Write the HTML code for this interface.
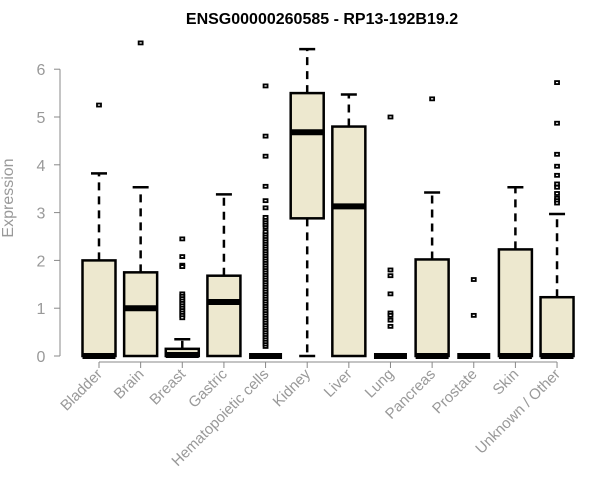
<!DOCTYPE html>
<html><head><meta charset="utf-8"><style>
html,body{margin:0;padding:0;background:#fff;}
svg{display:block;font-family:"Liberation Sans",Arial,sans-serif;}
</style></head><body>
<svg id="chart" width="600" height="500">
<text x="322" y="24" text-anchor="middle" font-weight="bold" font-size="16">ENSG00000260585 - RP13-192B19.2</text>
<text transform="translate(13,198) rotate(-90)" text-anchor="middle" font-size="16" fill="#999">Expression</text>
<g id="yaxis"></g>
<g id="xaxis"></g>
<g id="plot"></g>
</svg>
<script>
const categories=["Bladder","Brain","Breast","Gastric","Hematopoietic cells","Kidney","Liver","Lung","Pancreas","Prostate","Skin","Unknown / Other"];
const q1=[0,0,0,0,0,2.88,0,0,0,0,0,0];
const medians=[0,1.0,0.02,1.13,0,4.68,3.13,0,0,0,0,0];
const q3=[2.0,1.75,0.15,1.68,0,5.5,4.8,0,2.02,0,2.23,1.23];
const whiskLow=[0,0,0,0,0,0,0,0,0,0,0,0];
const whiskHigh=[3.82,3.53,0.35,3.38,0,6.42,5.47,0,3.42,0,3.53,2.97];
const outliers=[[5.25],[6.55],[2.45,2.08,1.9,1.87,1.3,1.25,1.2,1.15,1.1,1.05,1.0,0.95,0.9,0.85,0.8],[],
[0.2,0.25,0.3,0.35,0.4,0.45,0.5,0.55,0.6,0.65,0.7,0.75,0.8,0.85,0.9,0.95,1.0,1.05,1.1,1.15,1.2,1.25,1.3,1.35,1.4,1.45,1.5,1.55,1.6,1.65,1.7,1.75,1.8,1.85,1.9,1.95,2.0,2.05,2.1,2.15,2.2,2.25,2.3,2.35,2.4,2.45,2.5,2.55,2.6,2.7,2.75,2.8,2.85,2.9,3.1,3.25,3.55,4.18,4.6,5.65],
[],[],[5.0,1.8,1.68,1.3,0.9,0.85,0.75,0.62],[5.38],[1.6,0.85],[],
[5.72,4.87,4.22,3.97,3.78,3.6,3.53,3.4,3.3,3.25,3.2]];
const yTicks=[0,1,2,3,4,5,6];
const NS="http://www.w3.org/2000/svg";
const y=v=>356-v*47.8;
const x=i=>99+i*41.64;
function mk(parent,tag,attrs){const e=document.createElementNS(NS,tag);for(const k in attrs)e.setAttribute(k,attrs[k]);parent.appendChild(e);return e;}
const ya=document.getElementById('yaxis'),xa=document.getElementById('xaxis'),pl=document.getElementById('plot');
mk(ya,'line',{x1:60,x2:60,y1:y(0),y2:y(6),stroke:'#888'});
yTicks.forEach(t=>{
 const l=mk(ya,'line',{x1:54,x2:60,y1:y(t),y2:y(t),stroke:'#888'});
 
 
 const tx=mk(ya,'text',{x:41,y:y(t)+6,'text-anchor':'middle','font-size':16,fill:'#999'});
 tx.textContent=t;
 
 
});
mk(xa,'line',{x1:x(0),x2:x(11),y1:362,y2:362,stroke:'#888'});
categories.forEach((c,i)=>{
 const l=mk(xa,'line',{x1:x(i),x2:x(i),y1:362,y2:368,stroke:'#888'});
 
 
 const tx=mk(xa,'text',{transform:`translate(${x(i)+4},${375}) rotate(-45)`,'text-anchor':'end','font-size':15,fill:'#999'});
 tx.textContent=c;
 
 
});
categories.forEach((c,i)=>{
 const g=mk(pl,'g',{});
 
 
 const cx=x(i),hw=16.5;
 if(whiskHigh[i]>q3[i]){
  mk(g,'line',{x1:cx,x2:cx,y1:y(q3[i]),y2:y(whiskHigh[i]),stroke:'#000','stroke-width':2.5,'stroke-dasharray':'8,6'});
  mk(g,'line',{x1:cx-8,x2:cx+8,y1:y(whiskHigh[i]),y2:y(whiskHigh[i]),stroke:'#000','stroke-width':2.5});
 }
 if(whiskLow[i]<q1[i]){
  mk(g,'line',{x1:cx,x2:cx,y1:y(q1[i]),y2:y(whiskLow[i]),stroke:'#000','stroke-width':2.5,'stroke-dasharray':'8,6'});
  mk(g,'line',{x1:cx-8,x2:cx+8,y1:y(whiskLow[i]),y2:y(whiskLow[i]),stroke:'#000','stroke-width':2.5});
 }
 mk(g,'rect',{x:cx-hw,y:y(q3[i]),width:2*hw,height:Math.max(0,y(q1[i])-y(q3[i])),fill:'#ede8cf',stroke:'#000','stroke-width':2.5});
 mk(g,'line',{x1:cx-hw,x2:cx+hw,y1:y(medians[i]),y2:y(medians[i]),stroke:'#000','stroke-width':6});
 outliers[i].forEach(v=>{
  const r=mk(g,'rect',{x:cx-2,y:y(v)-1.5,width:4,height:3,fill:'#fff',stroke:'#000','stroke-width':1.8});
  
  
 });
});
</script>
</body></html>
